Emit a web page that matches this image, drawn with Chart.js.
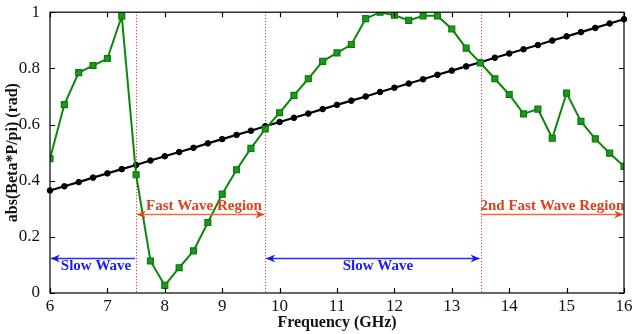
<!DOCTYPE html>
<html><head><meta charset="utf-8">
<script src="https://cdn.jsdelivr.net/npm/chart.js@4/dist/chart.umd.min.js"></script>
<style>html,body{margin:0;padding:0;background:#fff}canvas{display:block}</style>
</head><body>
<canvas id="c" width="632" height="334"></canvas>
<script>
const freqs = [6,6.25,6.5,6.75,7,7.25,7.5,7.75,8,8.25,8.5,8.75,9,9.25,9.5,9.75,10,10.25,10.5,10.75,11,11.25,11.5,11.75,12,12.25,12.5,12.75,13,13.25,13.5,13.75,14,14.25,14.5,14.75,15,15.25,15.5,15.75,16];
const measured = [0.478,0.671,0.785,0.810,0.835,0.986,0.421,0.114,0.027,0.090,0.150,0.251,0.352,0.439,0.515,0.584,0.642,0.704,0.763,0.825,0.855,0.885,0.977,1.000,0.989,0.971,0.987,0.987,0.940,0.872,0.819,0.763,0.707,0.638,0.655,0.551,0.712,0.611,0.549,0.498,0.451];
const lightLine = [0.365,0.380,0.395,0.411,0.426,0.441,0.456,0.472,0.487,0.502,0.517,0.533,0.548,0.563,0.578,0.594,0.609,0.624,0.639,0.655,0.670,0.685,0.700,0.716,0.731,0.746,0.761,0.777,0.792,0.807,0.822,0.838,0.853,0.868,0.883,0.899,0.914,0.929,0.944,0.960,0.975];
const xTicks = [6,7,8,9,10,11,12,13,14,15,16];
const yTicks = [0,0.2,0.4,0.6,0.8,1];
const boundaries = [7.5,9.75,13.5];
const regions = [
  {from:6, to:7.5, y:0.126, label:"Slow Wave", color:"blue", heads:"start"},
  {from:7.5, to:9.75, y:0.281, label:"Fast Wave Region", color:"red", heads:"both"},
  {from:9.75, to:13.5, y:0.126, label:"Slow Wave", color:"blue", heads:"both"},
  {from:13.5, to:16, y:0.281, label:"2nd Fast Wave Region", color:"red", heads:"end"}
];

const SERIF = "'Liberation Serif','Times New Roman',serif";
const toPts = ys => freqs.map((f,i)=>({x:f,y:ys[i]}));

function arrowHead(ctx, x, y, dir, color){
  ctx.save();
  ctx.fillStyle = color;
  ctx.beginPath();
  ctx.moveTo(x, y);
  ctx.lineTo(x - dir*9, y - 4);
  ctx.lineTo(x - dir*6, y);
  ctx.lineTo(x - dir*9, y + 4);
  ctx.closePath();
  ctx.fill();
  ctx.restore();
}

const overlay = {
  id:'overlay',
  beforeDatasetsDraw(chart){
    const {ctx, chartArea:a, scales:{x, y}} = chart;
    ctx.save();
    ctx.strokeStyle = '#ff1010';
    ctx.lineWidth = 1;
    ctx.setLineDash([1,2]);
    boundaries.forEach(b=>{
      const px = Math.round(x.getPixelForValue(b))+0.5;
      ctx.beginPath(); ctx.moveTo(px, a.top); ctx.lineTo(px, a.bottom); ctx.stroke();
    });
    ctx.restore();
  },
  afterDatasetsDraw(chart){
    const {ctx, chartArea:a, scales:{x, y}} = chart;
    ctx.save();
    regions.forEach(r=>{
      const lineCol = r.color==='blue' ? '#2a2aff' : '#f06a4a';
      const headCol = r.color==='blue' ? '#1010ff' : '#e8401c';
      const textCol = r.color==='blue' ? '#1a1aff' : '#e0401a';
      const x1 = x.getPixelForValue(r.from), x2 = x.getPixelForValue(r.to);
      const py = Math.round(y.getPixelForValue(r.y))+0.5;
      ctx.strokeStyle = lineCol; ctx.lineWidth = 1.3; ctx.setLineDash([]);
      ctx.beginPath(); ctx.moveTo(x1+1, py); ctx.lineTo(x2-1, py); ctx.stroke();
      if (r.heads==='start'||r.heads==='both') arrowHead(ctx, x1+1, py, -1, headCol);
      if (r.heads==='end'||r.heads==='both') arrowHead(ctx, x2-1, py, 1, headCol);
      ctx.fillStyle = textCol;
      ctx.font = "bold 15px " + SERIF;
      ctx.textBaseline = 'middle';
      if (r.color==='red'){
        ctx.textAlign='left';
        ctx.fillText(r.label, x1 + (r.heads==='end'? 0 : 10), py - 8);
      } else {
        ctx.textAlign='center';
        const cx = r.heads==='start' ? (x1+x2)/2 + 3 : (x1+x2)/2 + 5;
        ctx.fillText(r.label, cx, py + 8);
      }
    });
    // box and inward ticks
    ctx.strokeStyle = '#000'; ctx.lineWidth = 1.2; ctx.setLineDash([]);
    ctx.strokeRect(a.left, a.top, a.right-a.left, a.bottom-a.top);
    ctx.beginPath();
    xTicks.forEach(t=>{
      const px = Math.round(x.getPixelForValue(t))+0.5;
      ctx.moveTo(px, a.bottom); ctx.lineTo(px, a.bottom-5);
      ctx.moveTo(px, a.top); ctx.lineTo(px, a.top+5);
    });
    yTicks.forEach(t=>{
      const py = Math.round(y.getPixelForValue(t))+0.5;
      ctx.moveTo(a.left, py); ctx.lineTo(a.left+5, py);
      ctx.moveTo(a.right, py); ctx.lineTo(a.right-5, py);
    });
    ctx.stroke();
    ctx.restore();
  }
};

new Chart(document.getElementById('c'), {
  type:'line',
  data:{
    datasets:[
      {data:toPts(measured), borderColor:'#0b870b', backgroundColor:'#1a9a1a', pointBorderColor:'#0a7a0a',
       pointStyle:'rect', pointRadius:4.2, pointBorderWidth:1.2, borderWidth:2, tension:0},
      {data:toPts(lightLine), borderColor:'#000', backgroundColor:'#000', pointBorderColor:'#000',
       pointStyle:'circle', pointRadius:2.8, pointBorderWidth:1, borderWidth:2.2, tension:0, clip:false}
    ]
  },
  options:{
    responsive:false, animation:false, devicePixelRatio:1,
    layout:{padding:{top:12, right:8, left:0, bottom:0}},
    plugins:{legend:{display:false}, tooltip:{enabled:false}},
    scales:{
      x:{type:'linear', min:6, max:16,
        grid:{display:false}, border:{display:false},
        ticks:{stepSize:1, color:'#111', padding:-5, font:{family:SERIF, size:17}, maxRotation:0, autoSkip:false},
        title:{display:true, text:'Frequency (GHz)', color:'#111', font:{family:SERIF, size:16, weight:'bold'}, padding:{top:0, bottom:2}},
        afterFit(s){ s.height = 41; }
      },
      y:{min:0, max:1,
        grid:{display:false}, border:{display:false},
        ticks:{stepSize:0.2, color:'#111', padding:2, font:{family:SERIF, size:17},
          callback:v=>String(Number(v.toFixed(1)))},
        title:{display:true, text:'abs(Beta*P/pi) (rad)', color:'#111', font:{family:SERIF, size:16, weight:'bold'}, padding:{top:3, bottom:0}},
        afterFit(s){ s.width = 50; }
      }
    }
  },
  plugins:[overlay]
});
</script>
</body></html>
